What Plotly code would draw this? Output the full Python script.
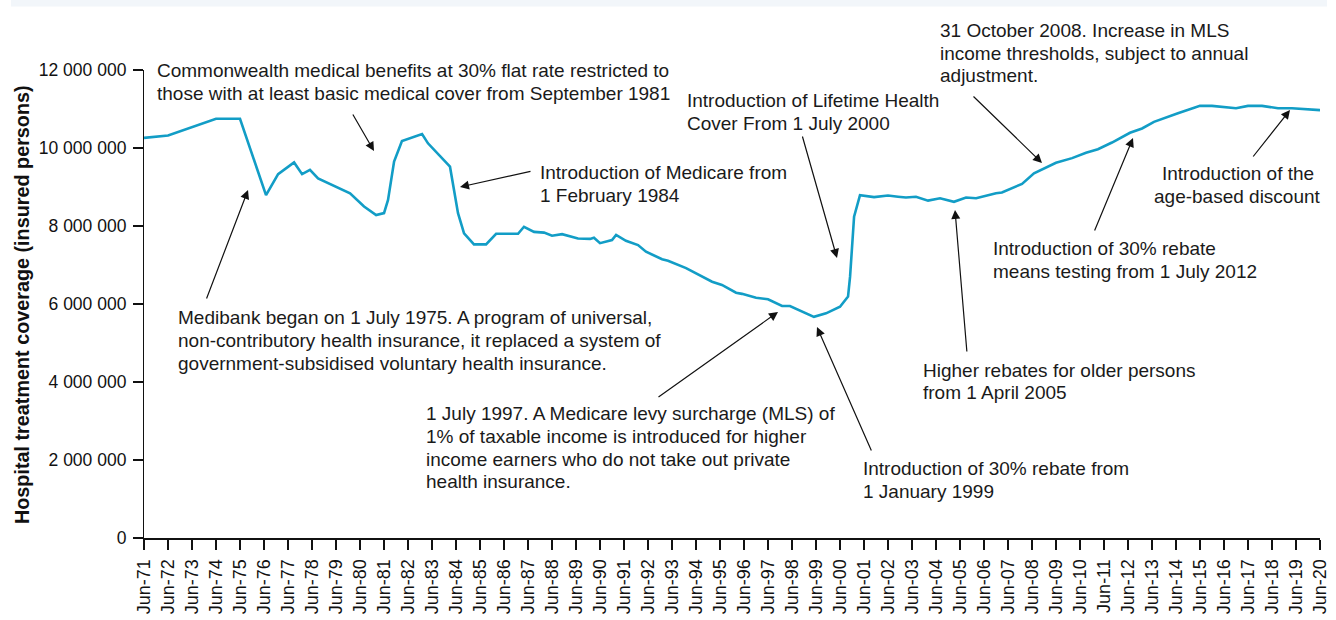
import plotly.graph_objects as go

# ---- data ----
dates = ["1971-06", "1972-06", "1974-06", "1975-06", "1976-07", "1977-01", "1977-09", "1978-01",
         "1978-05", "1978-09", "1980-01", "1980-08", "1981-02", "1981-06", "1981-08", "1981-11",
         "1982-03", "1983-01", "1983-04", "1984-03", "1984-07", "1984-10", "1985-03", "1985-09",
         "1986-02", "1987-01", "1987-04", "1987-09", "1988-02", "1988-06", "1988-11", "1989-07",
         "1990-01", "1990-03", "1990-06", "1990-10", "1990-12", "1991-02", "1991-07", "1992-01",
         "1992-05", "1993-01", "1993-04", "1994-01", "1995-02", "1995-07", "1996-02", "1996-05",
         "1996-12", "1997-06", "1998-01", "1998-05", "1999-05", "1999-11", "2000-06", "2000-10",
         "2000-11", "2001-01", "2001-04", "2001-11", "2002-06", "2002-11", "2003-03", "2003-08",
         "2004-02", "2004-08", "2005-03", "2005-09", "2006-02", "2006-12", "2007-03", "2008-01",
         "2008-07", "2009-06", "2010-02", "2010-09", "2011-03", "2011-10", "2012-07", "2013-01",
         "2013-07", "2014-07", "2015-06", "2015-12", "2016-12", "2017-06", "2018-01", "2018-09",
         "2019-04", "2020-06"]
insured_millions = [10.26, 10.32, 10.75, 10.75, 8.79, 9.33, 9.63, 9.33,
                    9.44, 9.22, 8.84, 8.50, 8.28, 8.33, 8.67, 9.65,
                    10.18, 10.36, 10.12, 9.52, 8.33, 7.81, 7.53, 7.53,
                    7.80, 7.80, 7.98, 7.85, 7.83, 7.75, 7.79, 7.68,
                    7.67, 7.70, 7.56, 7.62, 7.64, 7.77, 7.62, 7.51,
                    7.34, 7.15, 7.11, 6.92, 6.57, 6.49, 6.29, 6.26,
                    6.16, 6.12, 5.95, 5.95, 5.67, 5.76, 5.93, 6.19,
                    6.70, 8.24, 8.79, 8.74, 8.78, 8.75, 8.73, 8.75,
                    8.65, 8.71, 8.62, 8.73, 8.71, 8.84, 8.86, 9.08,
                    9.35, 9.62, 9.74, 9.88, 9.97, 10.14, 10.39, 10.50,
                    10.67, 10.89, 11.08, 11.08, 11.02, 11.08, 11.08, 11.02,
                    11.02, 10.97]
insured = [v * 1_000_000 for v in insured_millions]

y_ticks = [0, 2_000_000, 4_000_000, 6_000_000, 8_000_000, 10_000_000, 12_000_000]

notes = [
    "Commonwealth medical benefits at 30% flat rate restricted to<br>those with at least basic medical cover from September 1981",
    "Medibank began on 1 July 1975. A program of universal,<br>non-contributory health insurance, it replaced a system of<br>government-subsidised voluntary health insurance.",
    "Introduction of Medicare from<br>1 February 1984",
    "1 July 1997. A Medicare levy surcharge (MLS) of<br>1% of taxable income is introduced for higher<br>income earners who do not take out private<br>health insurance.",
    "Introduction of 30% rebate from<br>1 January 1999",
    "Introduction of Lifetime Health<br>Cover From 1 July 2000",
    "Higher rebates for older persons<br>from 1 April 2005",
    "31 October 2008. Increase in MLS<br>income thresholds, subject to annual<br>adjustment.",
    "Introduction of 30% rebate<br>means testing from 1 July 2012",
    "Introduction of the<br>age-based discount",
]

# ---- layout geometry (pixels) ----
W, H = 1336, 620
L, R, T, B = 144, 16, 70, 82
PW, PH = W - L - R, H - T - B


def px(x):
    return (x - L) / PW


def py(y):
    return (H - B - y) / PH


FONT = "Liberation Sans, Arial, Helvetica, sans-serif"
LINE_COLOR = "#129dc6"
NOTE_SIZE = 19

fig = go.Figure()
fig.add_trace(go.Scatter(x=dates, y=insured, mode="lines",
                         line=dict(color=LINE_COLOR, width=2.6), hoverinfo="x+y",
                         showlegend=False))

# text blocks: (left x, first-line y, line step, align)
text_pos = [(155, 70.5, 22.5, "left"), (176, 317, 23.3, "left"), (538, 172, 23.3, "left"),
            (424, 413.5, 22.8, "left"), (861, 468.5, 23.3, "left"), (685, 100.5, 22.5, "left"),
            (921, 370, 22.5, "left"), (938, 30.5, 22.7, "left"), (991, 248.5, 23, "left"),
            (1237.5, 173.5, 22.7, "center")]
# arrows: (tail x, tail y, tip x, tip y)
arrows = [(352, 113, 374, 151), (206, 300, 248, 190), (532, 171, 460, 187),
          (657, 398, 778, 312), (872, 452, 817, 327), (802, 135, 837, 258),
          (967, 353, 955, 210), (972, 95, 1042, 163), (1094, 232, 1133, 138),
          (1252, 158, 1290, 110)]

annotations = []
for txt, (tx, ty, step, al) in zip(notes, text_pos):
    for i, line in enumerate(txt.split("<br>")):
        annotations.append(dict(x=px(tx), y=py(ty + i * step), xref="paper", yref="paper",
                                text=line, showarrow=False,
                                xanchor="left" if al == "left" else "center",
                                yanchor="middle", align=al,
                                font=dict(family=FONT, size=NOTE_SIZE, color="#1a1a1a")))
for (x0, y0, x1, y1) in arrows:
    annotations.append(dict(x=px(x1), y=py(y1), xref="paper", yref="paper", text="",
                            showarrow=True, ax=x0 - x1, ay=y0 - y1, arrowhead=2,
                            arrowsize=1.5, arrowwidth=1.2, arrowcolor="#111111", standoff=0))
annotations.append(dict(x=px(22), y=py(305), xref="paper", yref="paper",
                        text="<b>Hospital treatment coverage (insured persons)</b>",
                        textangle=-90, showarrow=False, xanchor="center", yanchor="middle",
                        font=dict(family=FONT, size=19.8, color="#111111")))

fig.update_layout(
    width=W, height=H,
    margin=dict(l=L, r=R, t=T, b=B, pad=0, autoexpand=False),
    paper_bgcolor="white", plot_bgcolor="white",
    separators=". ",
    font=dict(family=FONT, size=17.5, color="#111111"),
    annotations=annotations,
    shapes=[dict(type="rect", xref="paper", yref="paper", x0=px(11), x1=px(1327),
                 y0=py(6.5), y1=py(0), fillcolor="#f2f6fa", line=dict(width=0), layer="below")],
    xaxis=dict(type="date", range=["1971-06-01", "2020-06-01"], tick0="1971-06-01",
               dtick="M12", tickformat="%b-%y", tickangle=-90, ticks="outside", ticklen=10,
               tickwidth=1.5, tickcolor="#111111", showline=True, linecolor="#111111",
               linewidth=2, showgrid=False, zeroline=False, automargin=False,
               ticklabelstandoff=2,
               tickfont=dict(family=FONT, size=18, color="#111111")),
    yaxis=dict(range=[0, 12_000_000], tickvals=y_ticks, tickformat=",", ticks="outside",
               ticklen=10, tickwidth=1.5, tickcolor="#111111", showline=True,
               linecolor="#111111", linewidth=1.2, showgrid=False, zeroline=False,
               automargin=False, ticklabelstandoff=3,
               tickfont=dict(family=FONT, size=17.5, color="#111111")),
)

fig.write_html("out.html")
